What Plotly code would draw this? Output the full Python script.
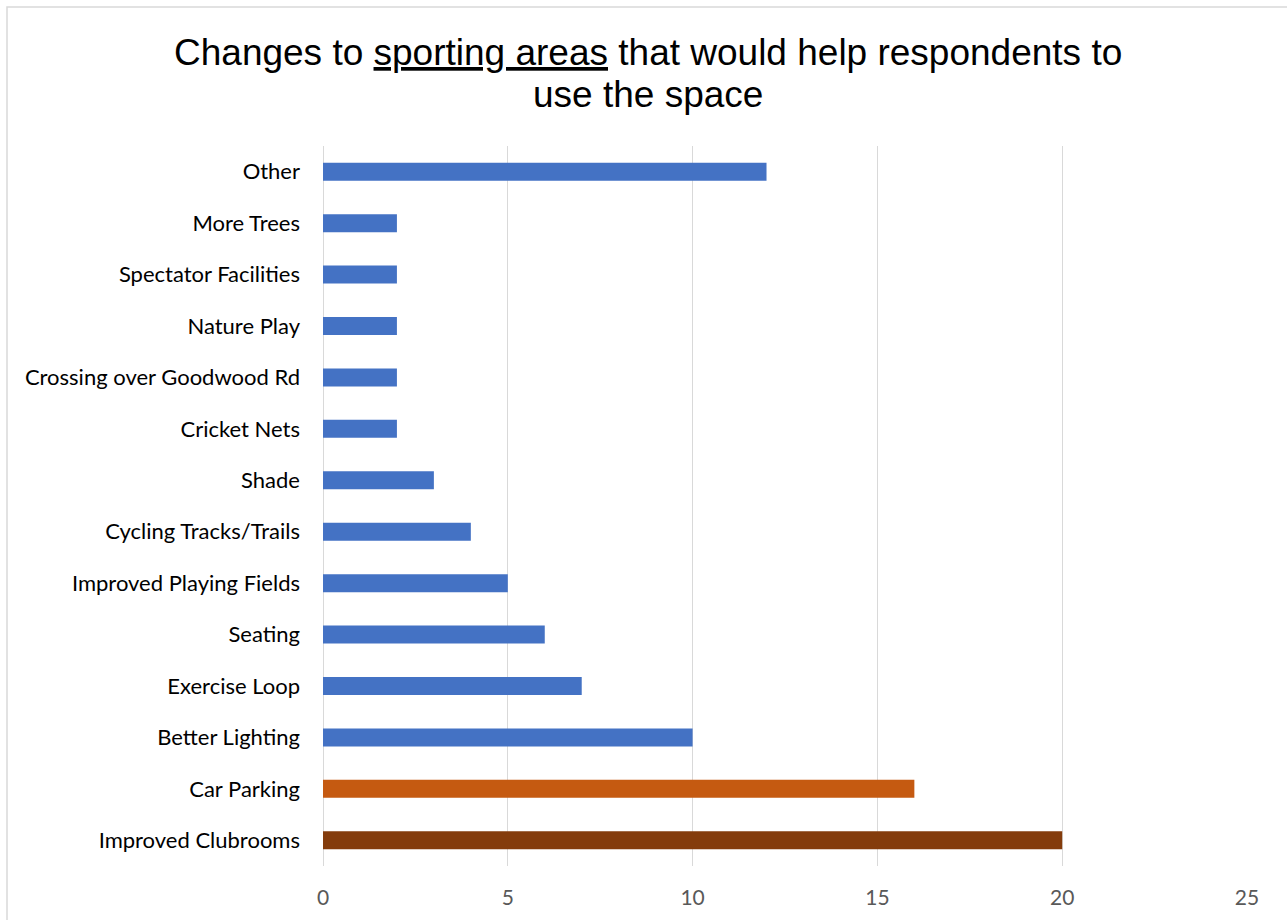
import plotly.graph_objects as go

categories = [
    "Other", "More Trees", "Spectator Facilities", "Nature Play",
    "Crossing over Goodwood Rd", "Cricket Nets", "Shade",
    "Cycling Tracks/Trails", "Improved Playing Fields", "Seating",
    "Exercise Loop", "Better Lighting", "Car Parking", "Improved Clubrooms",
]
values = [12, 2, 2, 2, 2, 2, 3, 4, 5, 6, 7, 10, 16, 20]
bar_colors = ["#4472C4"] * 12 + ["#C55A11", "#843C0C"]
x_ticks = [0, 5, 10, 15, 20, 25]
title_lines = [
    'Changes to <span style="text-decoration:underline">sporting areas</span> that would help respondents to',
    "use the space",
]

W, H = 1287, 920
ML, MR, MT, MB = 323, 40, 146, 54
PW = W - ML - MR
PH = H - MT - MB

fig = go.Figure(go.Bar(
    x=values, y=categories, orientation="h",
    marker=dict(color=bar_colors, line=dict(width=0)),
    width=0.35,
))

def px_x(p):
    return (p - ML) / PW

def px_y(p):
    return 1 - (p - MT) / PH

title_font = dict(family="Liberation Sans, Arial", size=37, color="#000000")
annotations = [
    dict(text=title_lines[0], x=px_x(648), y=px_y(52), xref="paper", yref="paper",
         xanchor="center", yanchor="middle", showarrow=False, font=title_font),
    dict(text=title_lines[1], x=px_x(648), y=px_y(94), xref="paper", yref="paper",
         xanchor="center", yanchor="middle", showarrow=False, font=title_font),
]

fig.update_layout(
    width=W, height=H,
    margin=dict(l=ML, r=MR, t=MT, b=MB),
    paper_bgcolor="white", plot_bgcolor="white",
    showlegend=False,
    annotations=annotations,
    xaxis=dict(
        range=[0, 25], tickvals=x_ticks, ticktext=[str(v) for v in x_ticks],
        showgrid=True, gridcolor="#D9D9D9", gridwidth=1.3,
        zeroline=True, zerolinecolor="#D9D9D9", zerolinewidth=1.3,
        showline=False, ticks="",
        tickfont=dict(family="Lato", size=21, color="#595959"),
        ticklabelstandoff=17,
    ),
    yaxis=dict(
        categoryorder="array", categoryarray=categories,
        autorange="reversed",
        showgrid=False, zeroline=False, showline=False, ticks="",
        tickfont=dict(family="Lato", size=22, color="#000000"),
        ticklabelstandoff=22,
    ),
    shapes=[
        dict(type="rect", xref="paper", yref="paper",
             x0=px_x(7), x1=px_x(1300), y0=px_y(7), y1=px_y(1000),
             line=dict(color="#D9D9D9", width=1.5), fillcolor="rgba(0,0,0,0)",
             layer="below"),
    ],
)

fig.write_html("out.html")
